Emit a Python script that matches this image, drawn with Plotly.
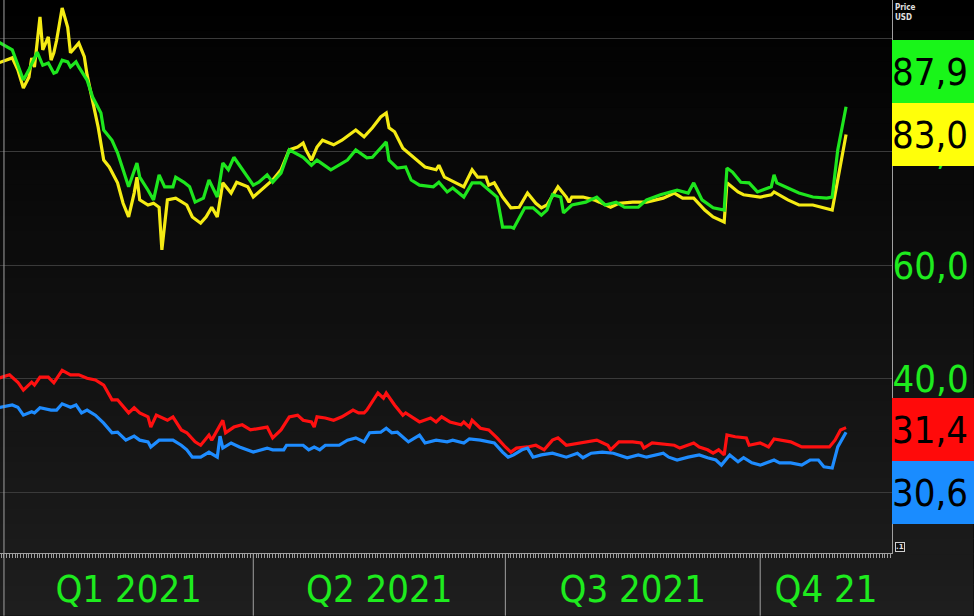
import plotly.graph_objects as go
import pandas as pd

# ---------------- data ----------------
green_dates = ["2020-12-30","2021-01-04","2021-01-08","2021-01-10","2021-01-13","2021-01-15","2021-01-17","2021-01-19","2021-01-20","2021-01-22",
    "2021-01-24","2021-01-25","2021-01-27","2021-01-28","2021-01-31","2021-02-02","2021-02-05","2021-02-06","2021-02-09","2021-02-11",
    "2021-02-13","2021-02-15","2021-02-18","2021-02-19","2021-02-22","2021-02-24","2021-02-26","2021-02-28","2021-03-03","2021-03-04",
    "2021-03-07","2021-03-09","2021-03-11","2021-03-14","2021-03-16","2021-03-19","2021-03-21","2021-03-23","2021-03-25","2021-03-28",
    "2021-04-01","2021-04-03","2021-04-06","2021-04-08","2021-04-11","2021-04-14","2021-04-16","2021-04-19","2021-04-22","2021-04-24",
    "2021-04-29","2021-05-05","2021-05-08","2021-05-12","2021-05-14","2021-05-19","2021-05-20","2021-05-23","2021-05-26","2021-05-28",
    "2021-05-31","2021-06-05","2021-06-07","2021-06-10","2021-06-12","2021-06-16","2021-06-19","2021-06-22","2021-06-28","2021-06-30",
    "2021-07-03","2021-07-04","2021-07-08","2021-07-11","2021-07-14","2021-07-16","2021-07-18","2021-07-21","2021-07-22","2021-07-25",
    "2021-07-30","2021-08-03","2021-08-06","2021-08-10","2021-08-13","2021-08-18","2021-08-21","2021-08-26","2021-09-01","2021-09-05",
    "2021-09-07","2021-09-10","2021-09-14","2021-09-18","2021-09-19","2021-09-21","2021-09-24","2021-09-27","2021-09-30","2021-10-05",
    "2021-10-06","2021-10-07","2021-10-11","2021-10-15","2021-10-20","2021-10-25","2021-10-27","2021-10-29","2021-11-01"]
green_values = [99.3, 97.9, 92.6, 94.4, 97.5, 95.2, 95.6, 93.8, 94.0, 96.1,
    95.8, 94.9, 95.8, 94.9, 92.6, 89.6, 86.8, 83.8, 82.0, 79.8,
    76.8, 73.8, 78.0, 75.5, 73.2, 71.5, 75.9, 73.8, 73.8, 75.5,
    74.6, 73.8, 71.1, 71.8, 75.0, 72.0, 78.0, 76.8, 79.0, 76.8,
    74.1, 74.6, 75.9, 74.6, 76.2, 80.3, 79.8, 79.0, 77.6, 78.5,
    76.8, 78.5, 80.3, 78.9, 79.0, 81.7, 78.5, 77.1, 77.3, 75.0,
    74.1, 73.8, 74.6, 72.9, 73.6, 72.0, 74.5, 74.5, 72.0, 66.7,
    66.7, 66.5, 70.1, 70.1, 68.8, 69.7, 72.4, 72.0, 69.2, 70.6,
    71.1, 72.0, 70.6, 71.1, 70.2, 70.2, 71.5, 72.4, 73.2, 72.7,
    74.5, 71.5, 70.1, 69.7, 77.1, 76.4, 74.6, 74.5, 72.9, 73.8,
    75.9, 74.5, 73.6, 72.7, 72.0, 71.8, 72.0, 80.3, 87.9]

yellow_dates = ["2020-12-30","2021-01-04","2021-01-06","2021-01-08","2021-01-10","2021-01-11","2021-01-12","2021-01-14","2021-01-15","2021-01-17",
    "2021-01-18","2021-01-19","2021-01-20","2021-01-22","2021-01-24","2021-01-25","2021-01-28","2021-01-30","2021-01-31","2021-02-02",
    "2021-02-04","2021-02-06","2021-02-08","2021-02-11","2021-02-13","2021-02-15","2021-02-17","2021-02-18","2021-02-19","2021-02-22",
    "2021-02-24","2021-02-26","2021-02-27","2021-03-01","2021-03-04","2021-03-08","2021-03-10","2021-03-13","2021-03-15","2021-03-17",
    "2021-03-19","2021-03-21","2021-03-24","2021-03-26","2021-03-30","2021-04-01","2021-04-05","2021-04-08","2021-04-10","2021-04-11",
    "2021-04-14","2021-04-17","2021-04-19","2021-04-20","2021-04-22","2021-04-24","2021-04-26","2021-04-30","2021-05-03","2021-05-08",
    "2021-05-11","2021-05-14","2021-05-17","2021-05-19","2021-05-20","2021-05-22","2021-05-25","2021-05-29","2021-06-02","2021-06-06",
    "2021-06-07","2021-06-09","2021-06-13","2021-06-16","2021-06-19","2021-06-21","2021-06-24","2021-06-25","2021-06-27","2021-06-30",
    "2021-07-03","2021-07-06","2021-07-09","2021-07-12","2021-07-14","2021-07-16","2021-07-20","2021-07-23","2021-07-24","2021-07-25",
    "2021-07-29","2021-08-02","2021-08-04","2021-08-08","2021-08-11","2021-08-16","2021-08-21","2021-08-27","2021-08-31","2021-09-03",
    "2021-09-07","2021-09-11","2021-09-14","2021-09-18","2021-09-19","2021-09-23","2021-09-25","2021-10-01","2021-10-05","2021-10-06",
    "2021-10-11","2021-10-15","2021-10-20","2021-10-27","2021-11-01"]
yellow_values = [95.6, 96.5, 94.4, 91.2, 93.1, 96.5, 94.9, 103.7, 97.9, 100.2,
    96.1, 97.4, 99.6, 105.3, 101.9, 97.4, 99.1, 96.7, 93.5, 88.6,
    84.3, 78.5, 77.3, 74.5, 70.9, 68.5, 72.7, 75.5, 71.5, 70.6,
    70.9, 70.2, 62.7, 71.5, 71.8, 70.6, 68.5, 67.4, 68.5, 70.2,
    68.5, 74.5, 72.7, 74.6, 73.8, 72.0, 73.8, 75.0, 76.2, 76.8,
    80.3, 80.8, 81.5, 80.3, 78.5, 80.8, 82.0, 81.2, 82.0, 83.8,
    82.6, 84.2, 86.1, 86.8, 84.2, 83.5, 80.6, 78.9, 77.3, 76.8,
    77.6, 75.5, 74.6, 73.8, 76.8, 75.5, 75.5, 74.1, 74.5, 72.0,
    70.1, 70.2, 72.7, 70.9, 70.1, 70.6, 73.8, 72.0, 71.1, 72.0,
    72.0, 71.5, 71.1, 70.2, 70.9, 71.1, 71.1, 71.8, 72.7, 71.8,
    71.8, 69.7, 68.5, 67.6, 74.5, 72.9, 72.4, 72.0, 72.4, 72.9,
    71.5, 70.6, 70.6, 69.7, 83.0]

red_dates = ["2020-12-30","2021-01-03","2021-01-06","2021-01-08","2021-01-11","2021-01-12","2021-01-14","2021-01-17","2021-01-19","2021-01-22",
    "2021-01-25","2021-01-28","2021-01-31","2021-02-03","2021-02-06","2021-02-09","2021-02-11","2021-02-15","2021-02-17","2021-02-19",
    "2021-02-22","2021-02-23","2021-02-25","2021-03-01","2021-03-03","2021-03-06","2021-03-08","2021-03-11","2021-03-13","2021-03-16",
    "2021-03-17","2021-03-21","2021-03-22","2021-03-25","2021-03-28","2021-03-31","2021-04-06","2021-04-08","2021-04-11","2021-04-14",
    "2021-04-17","2021-04-19","2021-04-22","2021-04-23","2021-04-24","2021-04-27","2021-04-30","2021-05-03","2021-05-07","2021-05-09",
    "2021-05-11","2021-05-12","2021-05-16","2021-05-18","2021-05-19","2021-05-22","2021-05-25","2021-05-26","2021-05-31","2021-06-04",
    "2021-06-06","2021-06-08","2021-06-11","2021-06-15","2021-06-16","2021-06-18","2021-06-19","2021-06-22","2021-06-25","2021-06-28",
    "2021-07-01","2021-07-03","2021-07-05","2021-07-09","2021-07-12","2021-07-15","2021-07-18","2021-07-20","2021-07-23","2021-07-28",
    "2021-08-03","2021-08-07","2021-08-08","2021-08-11","2021-08-16","2021-08-19","2021-08-20","2021-08-23","2021-08-31","2021-09-02",
    "2021-09-07","2021-09-09","2021-09-12","2021-09-14","2021-09-16","2021-09-18","2021-09-19","2021-09-22","2021-09-26","2021-09-27",
    "2021-10-01","2021-10-04","2021-10-06","2021-10-12","2021-10-16","2021-10-20","2021-10-26","2021-10-28","2021-10-30","2021-11-01"]
red_values = [40.1, 40.7, 39.4, 38.0, 39.4, 38.9, 40.3, 40.3, 39.3, 41.5,
    40.7, 40.7, 40.1, 39.8, 38.9, 36.3, 36.3, 34.0, 34.9, 34.0,
    33.3, 31.5, 33.6, 32.7, 33.3, 31.0, 30.5, 28.9, 28.3, 30.1,
    29.2, 32.7, 30.5, 31.5, 31.9, 31.0, 31.5, 29.6, 31.0, 33.3,
    33.6, 32.7, 32.4, 31.5, 33.3, 33.1, 32.7, 33.3, 34.5, 34.0,
    34.0, 34.5, 37.5, 36.6, 37.5, 35.4, 33.6, 34.0, 32.4, 33.1,
    32.4, 33.3, 32.4, 31.9, 32.4, 31.5, 32.7, 31.3, 31.0, 29.6,
    28.0, 27.1, 27.8, 28.0, 28.3, 27.5, 29.2, 29.6, 28.3, 28.7,
    29.2, 28.3, 27.5, 28.9, 28.9, 28.7, 27.8, 28.7, 28.3, 27.8,
    28.7, 28.0, 27.5, 26.9, 27.5, 26.6, 30.1, 29.8, 29.6, 28.3,
    28.7, 28.0, 29.4, 28.9, 28.0, 28.0, 28.0, 29.2, 31.0, 31.4]

blue_dates = ["2020-12-30","2021-01-04","2021-01-06","2021-01-08","2021-01-11","2021-01-12","2021-01-14","2021-01-18","2021-01-20","2021-01-22",
    "2021-01-25","2021-01-27","2021-01-29","2021-01-31","2021-02-03","2021-02-06","2021-02-09","2021-02-11","2021-02-14","2021-02-17",
    "2021-02-19","2021-02-22","2021-02-23","2021-02-26","2021-03-03","2021-03-06","2021-03-08","2021-03-10","2021-03-13","2021-03-16",
    "2021-03-19","2021-03-20","2021-03-21","2021-03-24","2021-03-27","2021-04-01","2021-04-06","2021-04-08","2021-04-12","2021-04-13",
    "2021-04-19","2021-04-21","2021-04-23","2021-04-25","2021-04-27","2021-05-02","2021-05-05","2021-05-08","2021-05-11","2021-05-13",
    "2021-05-17","2021-05-19","2021-05-21","2021-05-23","2021-05-27","2021-05-31","2021-06-02","2021-06-06","2021-06-10","2021-06-12",
    "2021-06-16","2021-06-18","2021-06-22","2021-06-25","2021-06-27","2021-06-30","2021-07-02","2021-07-04","2021-07-07","2021-07-09",
    "2021-07-11","2021-07-14","2021-07-18","2021-07-23","2021-07-27","2021-07-29","2021-08-01","2021-08-05","2021-08-09","2021-08-14",
    "2021-08-18","2021-08-21","2021-08-27","2021-08-29","2021-09-01","2021-09-05","2021-09-09","2021-09-12","2021-09-15","2021-09-17",
    "2021-09-20","2021-09-23","2021-09-25","2021-09-28","2021-10-01","2021-10-06","2021-10-08","2021-10-12","2021-10-16","2021-10-19",
    "2021-10-22","2021-10-24","2021-10-27","2021-10-29","2021-11-01"]
blue_values = [34.9, 35.4, 35.0, 33.6, 34.2, 34.0, 34.9, 34.5, 34.5, 35.6,
    35.0, 35.4, 34.0, 34.5, 33.6, 32.2, 30.5, 30.6, 29.2, 29.9,
    29.2, 28.9, 28.0, 29.2, 29.2, 28.3, 27.5, 26.2, 26.2, 27.1,
    26.2, 29.9, 27.8, 28.7, 28.0, 27.1, 27.8, 27.5, 27.5, 28.3,
    28.3, 27.5, 28.0, 27.5, 28.3, 28.3, 29.2, 29.6, 28.9, 30.5,
    30.6, 31.3, 30.5, 30.6, 28.9, 30.1, 28.7, 29.2, 28.9, 29.2,
    28.7, 29.4, 29.2, 28.9, 28.7, 27.1, 26.2, 26.6, 27.5, 27.8,
    26.2, 26.6, 26.9, 26.2, 26.9, 26.1, 26.9, 27.1, 26.9, 26.1,
    26.6, 26.2, 26.9, 26.2, 25.7, 26.2, 26.6, 26.1, 25.7, 24.8,
    26.6, 25.4, 26.1, 25.2, 24.8, 25.7, 25.2, 25.2, 24.8, 25.7,
    25.7, 24.5, 24.3, 28.0, 30.6]

y_ticks = [20, 40, 60, 80, 100]
y_ticktext = ["20,0", "40,0", "60,0", "80,0", ""]
quarter_labels = ["Q1 2021", "Q2 2021", "Q3 2021", "Q4 21"]
quarter_starts = ["2021-01-01", "2021-04-01", "2021-07-01", "2021-10-01"]
x_range = ["2020-12-30 13:30", "2021-11-17 14:00"]
y_range = [9.33, 106.69]

# ---------------- style ----------------
W, H = 974, 616
M_L, M_R, M_T, M_B = 0, 82, 0, 63
FONT = "DejaVu Sans Condensed, DejaVu Sans, sans-serif"
BIG = 38
C_GREEN_LINE = "#1ee61e"
C_YELLOW_LINE = "#f5eb14"
C_RED_LINE = "#ff1010"
C_BLUE_LINE = "#1e8cff"
C_TXT = "#1eeb1e"
C_GRID = "#3a3a3a"
C_AXIS = "#a0a0a0"

fig = go.Figure()
series = [
    (yellow_dates, yellow_values, C_YELLOW_LINE),
    (green_dates, green_values, C_GREEN_LINE),
    (red_dates, red_values, C_RED_LINE),
    (blue_dates, blue_values, C_BLUE_LINE),
]
for d, v, c in series:
    fig.add_trace(go.Scatter(x=d, y=v, mode="lines", line=dict(color=c, width=3.2),
                             hoverinfo="skip", showlegend=False))

# quarter label positions: middle of the visible part of each quarter
qs = [pd.Timestamp(s) for s in quarter_starts]
ends = qs[1:] + [pd.Timestamp(x_range[1])]
q_mid = [a + (b - a) / 2 for a, b in zip(qs, ends)]

plot_w = W - M_L - M_R
plot_h = H - M_T - M_B
bottom_paper = -M_B / plot_h
right_paper = (W - M_L) / plot_w

shapes = []
# vertical background gradient (black at the top to dark grey at the bottom)
n_bands = 40
for i in range(n_bands):
    y0 = bottom_paper + (1 - bottom_paper) * i / n_bands
    y1 = bottom_paper + (1 - bottom_paper) * (i + 1) / n_bands
    g = int(round(30 * (1 - (i + 0.5) / n_bands)))
    shapes.append(dict(type="rect", xref="paper", yref="paper", x0=0, x1=right_paper - 0.0005,
                       y0=max(y0, bottom_paper + 0.0005), y1=min(y1 + 0.002, 1),
                       fillcolor=f"rgb({g},{g},{g})", line=dict(width=0), layer="below"))
# quarter separators in the label strip
for i, s in enumerate(quarter_starts):
    shapes.append(dict(type="line", xref="x", yref="paper", x0=s, x1=s,
                       y0=bottom_paper + 0.0005, y1=(1 if i == 0 else 0),
                       line=dict(color=C_AXIS, width=1), layer="above"))

annotations = []
boxes = [
    (green_values[-1], "#19f519", 35),
    (yellow_values[-1], "#ffff0a", 0),
    (red_values[-1], "#ff0a0a", -2),
    (blue_values[-1], "#1a8cff", -60),
]
for val, col, ysh in boxes:
    annotations.append(dict(xref="paper", yref="y", x=1, y=val, xanchor="left", yanchor="middle",
                            yshift=ysh, text=f"{val:.1f}".replace(".", ","), showarrow=False,
                            bgcolor=col, width=82, height=63, borderpad=0, borderwidth=0, align="left",
                            font=dict(family=FONT, size=BIG, color="#000000")))
annotations.append(dict(xref="paper", yref="paper", x=1, y=1, xanchor="left", yanchor="top",
                        xshift=1, yshift=-1, text="<b>Price</b><br><b>USD</b>", showarrow=False, align="left",
                        font=dict(family="DejaVu Sans Condensed, sans-serif", size=8, color="#e0e0e0")))
annotations.append(dict(xref="paper", yref="paper", x=1, y=0, xanchor="left", yanchor="bottom",
                        xshift=3, yshift=1, text="<b>.1</b>", showarrow=False,
                        bordercolor="#d0d0d0", borderwidth=1, borderpad=0, bgcolor="#111111",
                        font=dict(family="DejaVu Sans, sans-serif", size=7, color="#e0e0e0")))

fig.update_layout(
    width=W, height=H,
    margin=dict(l=M_L, r=M_R, t=M_T, b=M_B, pad=0, autoexpand=False),
    paper_bgcolor="#000000", plot_bgcolor="rgba(0,0,0,0)",
    showlegend=False, hovermode=False,
    shapes=shapes, annotations=annotations,
    xaxis=dict(type="date", range=x_range, tickmode="array", tickvals=q_mid, ticktext=quarter_labels,
               ticks="", showgrid=False, zeroline=False, showline=True, linecolor=C_AXIS, linewidth=1,
               automargin=False,
               tickfont=dict(family=FONT, size=BIG, color=C_TXT), ticklabelstandoff=2,
               minor=dict(tickmode="linear", tick0="2021-01-01", dtick=86400000, ticks="outside",
                          ticklen=4, tickwidth=1, tickcolor=C_AXIS, showgrid=False)),
    yaxis=dict(range=y_range, side="right", tickmode="array", tickvals=y_ticks, ticktext=y_ticktext,
               ticks="", showgrid=True, gridcolor=C_GRID, gridwidth=1, zeroline=False,
               showline=True, linecolor=C_AXIS, linewidth=1, automargin=False,
               tickfont=dict(family=FONT, size=BIG, color=C_TXT), ticklabelstandoff=-8),
)

PAGE_CSS = ("html,body{margin:0;padding:0;overflow:hidden;width:974px;height:616px;background:#000;}"
            ".plotly-graph-div,.svg-container,.main-svg{overflow:hidden !important;}")
fig.write_html("out.html", config={"displayModeBar": False, "staticPlot": True},
               post_script="var s=document.createElement('style');s.innerHTML='" + PAGE_CSS + "';"
                           "document.head.appendChild(s);")
